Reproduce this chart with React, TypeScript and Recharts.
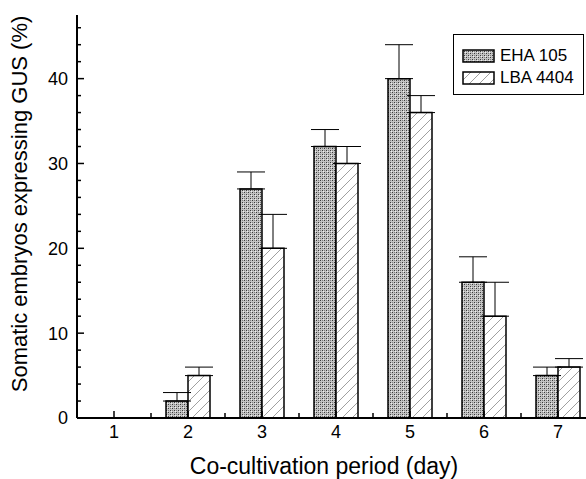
import { BarChart, Bar, XAxis, YAxis, ErrorBar, Legend } from 'recharts';

// co-cultivation day vs. % GUS-expressing somatic embryos
const days = [1, 2, 3, 4, 5, 6, 7];
const eha105 = [0, 2, 27, 32, 40, 16, 5];
const eha105Err = [0, 1, 2, 2, 4, 3, 1];
const lba4404 = [0, 5, 20, 30, 36, 12, 6];
const lba4404Err = [0, 1, 4, 2, 2, 4, 1];

const xTicks = [1, 1.5, 2, 2.5, 3, 3.5, 4, 4.5, 5, 5.5, 6, 6.5, 7];
const yTicks = [0, 2, 4, 6, 8, 10, 12, 14, 16, 18, 20, 22, 24, 26, 28, 30, 32, 34, 36, 38, 40, 42, 44, 46];

const data = days.map((day, i) => ({
  day,
  eha: eha105[i],
  ehaErr: [0, eha105Err[i]],
  lba: lba4404[i],
  lbaErr: [0, lba4404Err[i]],
}));

const FONT = '"Liberation Sans", Arial, Helvetica, sans-serif';

const XTick = (props: any) => {
  const { x, y, payload } = props;
  const v = payload.value;
  const major = Number.isInteger(v);
  return (
    <g>
      <line x1={x} x2={x} y1={y} y2={y - (major ? 7 : 5)} stroke="#000" strokeWidth={1.5} />
      {major && (
        <text x={x} y={y + 20} textAnchor="middle" fontSize={18} fill="#000" fontFamily={FONT}>
          {v}
        </text>
      )}
    </g>
  );
};

const YTick = (props: any) => {
  const { x, y, payload } = props;
  const v = payload.value;
  const major = v % 10 === 0;
  return (
    <g>
      <line x1={x} x2={x + (major ? 7 : 4)} y1={y} y2={y} stroke="#000" strokeWidth={1.5} />
      {major && (
        <text x={x - 9} y={y} dy="0.36em" textAnchor="end" fontSize={18} fill="#000" fontFamily={FONT}>
          {v}
        </text>
      )}
    </g>
  );
};

const legendItems = [
  { name: 'EHA 105', fill: 'url(#ehaDots)' },
  { name: 'LBA 4404', fill: 'url(#lbaHatch)' },
];

const LegendBox = () => (
  <div
    style={{
      border: '1.5px solid #000',
      background: '#fff',
      padding: '10px 0 5px 8px',
      width: 121,
      fontFamily: FONT,
      fontSize: 17,
      lineHeight: '22px',
    }}
  >
    {legendItems.map((item) => (
      <div key={item.name} style={{ display: 'flex', alignItems: 'center', height: 22 }}>
        <svg width={33} height={14} style={{ marginRight: 5 }}>
          <rect x={1} y={1} width={31} height={12} fill={item.fill} stroke="#000" strokeWidth={1.5} />
        </svg>
        <span>{item.name}</span>
      </div>
    ))}
  </div>
);

export default function App() {
  return (
    <div
      style={{
        position: 'absolute',
        left: 0,
        top: 0,
        width: 586,
        height: 479,
        overflow: 'hidden',
        background: '#fff',
        fontFamily: FONT,
      }}
    >
      <BarChart
        width={610}
        height={479}
        data={data}
        margin={{ top: 15, right: 15, left: 17, bottom: 0 }}
        barGap={0}
        barSize={22}
      >
        <defs>
          <pattern id="ehaDots" patternUnits="userSpaceOnUse" width={4} height={4}>
            <rect width={4} height={4} fill="#c4c4c4" />
            <rect x={0} y={0} width={1} height={1} fill="#3a3a3a" />
            <rect x={2} y={2} width={1} height={1} fill="#3a3a3a" />
            <rect x={2} y={0} width={1} height={1} fill="#808080" />
            <rect x={0} y={2} width={1} height={1} fill="#808080" />
            <rect x={3} y={3} width={1} height={1} fill="#eee" />
          </pattern>
          <pattern id="lbaHatch" patternUnits="userSpaceOnUse" width={10} height={10}>
            <rect width={10} height={10} fill="#fff" />
            <path d="M0,10 L10,0 M-2,2 L2,-2 M8,12 L12,8" stroke="#888" strokeWidth={0.8} />
          </pattern>
        </defs>
        <XAxis
          dataKey="day"
          type="number"
          domain={[0.5, 7.5]}
          ticks={xTicks}
          interval={0}
          tickSize={0}
          tickMargin={0}
          height={61}
          axisLine={{ stroke: '#000', strokeWidth: 2 }}
          tickLine={false}
          tick={<XTick />}
          label={{
            content: () => (
              <text x={324} y={474} textAnchor="middle" fontSize={23} fill="#000" fontFamily={FONT}>
                Co-cultivation period (day)
              </text>
            ),
          }}
        />
        <XAxis
          xAxisId="top"
          orientation="top"
          dataKey="day"
          type="number"
          domain={[0.5, 7.5]}
          height={0}
          tick={false}
          tickLine={false}
          axisLine={{ stroke: '#000', strokeWidth: 1.5 }}
        />
        <YAxis
          type="number"
          domain={[0, 47.5]}
          ticks={yTicks}
          interval={0}
          width={60}
          tickSize={0}
          tickMargin={0}
          axisLine={{ stroke: '#000', strokeWidth: 2 }}
          tickLine={false}
          tick={<YTick />}
          label={{
            content: () => (
              <text
                transform="translate(27,204) rotate(-90)"
                textAnchor="middle"
                fontSize={22}
                fill="#000"
                fontFamily={FONT}
              >
                Somatic embryos expressing GUS (%)
              </text>
            ),
          }}
        />
        <Legend
          layout="horizontal"
          verticalAlign="middle"
          align="center"
          content={<LegendBox />}
          wrapperStyle={{ top: 34, left: 453, width: 130 }}
        />
        <Bar dataKey="eha" name="EHA 105" fill="url(#ehaDots)" stroke="#000" strokeWidth={1.5} isAnimationActive={false}>
          <ErrorBar dataKey="ehaErr" width={14} stroke="#000" strokeWidth={1} />
        </Bar>
        <Bar dataKey="lba" name="LBA 4404" fill="url(#lbaHatch)" stroke="#000" strokeWidth={1.5} isAnimationActive={false}>
          <ErrorBar dataKey="lbaErr" width={14} stroke="#000" strokeWidth={1} />
        </Bar>
      </BarChart>
    </div>
  );
}
